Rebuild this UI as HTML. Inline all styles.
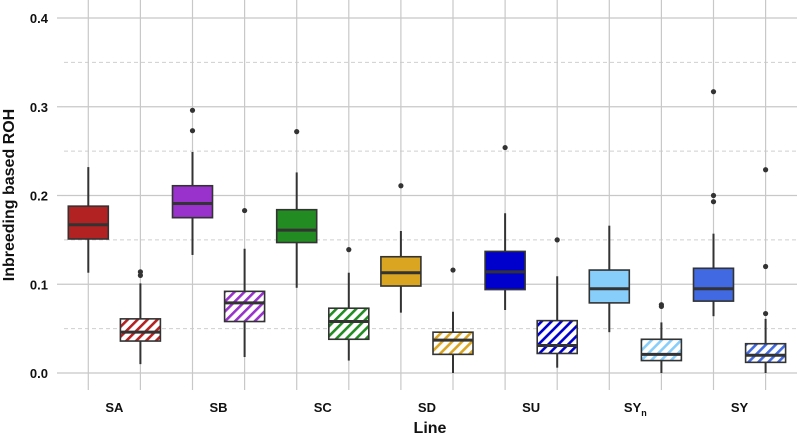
<!DOCTYPE html>
<html><head><meta charset="utf-8"><style>
html,body{margin:0;padding:0;background:#fff}
svg{display:block;font-family:"Liberation Sans",Arial,sans-serif}
</style></head><body>
<svg id="chart" width="797" height="439" viewBox="0 0 797 439">
<defs id="defs"></defs>
<g id="grid"></g>
<g id="marks"></g>
<g id="axes"></g>
<text x="14" y="195" transform="rotate(-90 14 195)" text-anchor="middle" font-size="16" font-weight="bold" fill="#111">Inbreeding based ROH</text>
<text x="430" y="433" text-anchor="middle" font-size="16" font-weight="bold" fill="#111">Line</text>
</svg>
<script>
const categories = ["SA","SB","SC","SD","SU","SYn","SY"];
const colors = ["#b22222","#9932cc","#228b22","#daa520","#0000cd","#87cefa","#4169e1"];
// [low, q1, median, q3, high] solid boxes
const solidStats = [
 [0.113,0.151,0.167,0.188,0.232],
 [0.133,0.175,0.191,0.211,0.249],
 [0.096,0.147,0.161,0.184,0.226],
 [0.068,0.098,0.113,0.131,0.160],
 [0.071,0.094,0.114,0.137,0.180],
 [0.046,0.079,0.095,0.116,0.166],
 [0.064,0.081,0.095,0.118,0.157]
];
const solidOutliers = [[],[0.296,0.273],[0.272],[0.211],[0.254],[],[0.317,0.200,0.193]];
const hatchStats = [
 [0.010,0.036,0.046,0.061,0.101],
 [0.018,0.058,0.079,0.092,0.140],
 [0.014,0.038,0.058,0.073,0.113],
 [0.000,0.021,0.037,0.046,0.069],
 [0.006,0.022,0.031,0.059,0.109],
 [0.000,0.014,0.021,0.038,0.057],
 [0.000,0.012,0.020,0.033,0.061]
];
const hatchOutliers = [[0.114,0.110],[0.183],[0.139],[0.116],[0.150],[0.077,0.075],[0.229,0.120,0.067]];
const yTicks = [0,0.1,0.2,0.3,0.4];
const yMinor = [0.05,0.15,0.25,0.35];

const NS="http://www.w3.org/2000/svg";
const y = v => 373 - v*887.5;
const xs = i => 88.3 + 52.1*i;
function mk(tag, attrs, parent){const e=document.createElementNS(NS,tag);for(const k in attrs)e.setAttribute(k,attrs[k]);parent.appendChild(e);return e;}
const grid=document.getElementById('grid'), marks=document.getElementById('marks'), axes=document.getElementById('axes'), defs=document.getElementById('defs');

yTicks.forEach(t=>{
  const l=mk('line',{x1:57,x2:797,y1:y(t),y2:y(t),stroke:'#c8c8c8','stroke-width':1.2},grid);
  
  
  const tx=mk('text',{x:48,y:y(t)+5,'text-anchor':'end','font-size':13,'font-weight':'bold',fill:'#111'},axes);
  tx.textContent=t.toFixed(1);
  
  
});
yMinor.forEach(t=>{
  const l=mk('line',{x1:64,x2:797,y1:y(t),y2:y(t),stroke:'#cfcfcf','stroke-width':1,'stroke-dasharray':'4,3'},grid);
  
  
});
for(let i=0;i<14;i++){
  const l=mk('line',{x1:xs(i),x2:xs(i),y1:0,y2:390,stroke:'#c8c8c8','stroke-width':1.2},grid);
  
  
}
categories.forEach((c,i)=>{
  const cx=(xs(2*i)+xs(2*i+1))/2;
  const t=mk('text',{x:cx,y:412,'text-anchor':'middle','font-size':13,'font-weight':'bold',fill:'#111'},axes);
  if(c==='SYn'){t.textContent='SY';const s=mk('tspan',{'font-size':9,dy:4},t);s.textContent='n';}
  else t.textContent=c;
  
  
  const p=mk('pattern',{id:'hatch'+i,patternUnits:'userSpaceOnUse',width:7,height:7,patternTransform:'rotate(45)'},defs);
  mk('rect',{width:7,height:7,fill:'#fff'},p);
  mk('rect',{width:2.6,height:7,fill:colors[i]},p);
});
function drawBox(cx,s,outs,fill,name){
  const g=mk('g',{},marks);
  
  
  const w=20;
  mk('line',{x1:cx,x2:cx,y1:y(s[0]),y2:y(s[1]),stroke:'#333','stroke-width':2},g);
  mk('line',{x1:cx,x2:cx,y1:y(s[3]),y2:y(s[4]),stroke:'#333','stroke-width':2},g);
  mk('rect',{x:cx-w,y:y(s[3]),width:2*w,height:y(s[1])-y(s[3]),fill:fill,stroke:'#333','stroke-width':1.6},g);
  mk('line',{x1:cx-w,x2:cx+w,y1:y(s[2]),y2:y(s[2]),stroke:'#333','stroke-width':3},g);
  outs.forEach(o=>{
    const c=mk('circle',{cx:cx,cy:y(o),r:2.6,fill:'#333'},g);
    
    
  });
}
categories.forEach((c,i)=>{
  drawBox(xs(2*i),solidStats[i],solidOutliers[i],colors[i],'box-'+c.toLowerCase()+'-solid');
  drawBox(xs(2*i+1),hatchStats[i],hatchOutliers[i],'url(#hatch'+i+')','box-'+c.toLowerCase()+'-hatched');
});
</script>
</body></html>
